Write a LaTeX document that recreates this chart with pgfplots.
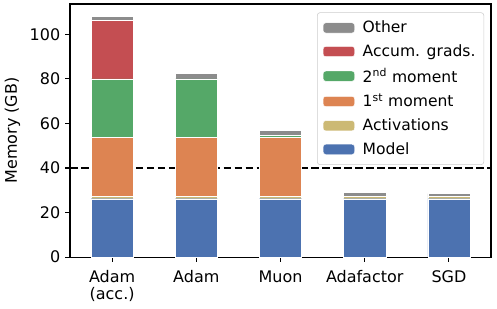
\documentclass[border=0pt]{standalone}
\usepackage{pgfplots}
\pgfplotsset{compat=1.18}
\usepackage{fontspec}
\setmainfont{DejaVu Sans}
\definecolor{cblue}{HTML}{4C72B0}
\definecolor{corange}{HTML}{DD8452}
\definecolor{cgreen}{HTML}{55A868}
\definecolor{cred}{HTML}{C44E52}
\definecolor{cgray}{HTML}{8C8C8C}
\definecolor{colive}{HTML}{CCB974}
\begin{document}
\begin{tikzpicture}
\begin{axis}[
  name=ax,
  scale only axis,
  width=303.1pt, height=182.2pt,
  ybar stacked,
  bar width=0.5,
  xmin=-0.5, xmax=4.5,
  ymin=0, ymax=113.6,
  xtick={0,1,2,3,4},
  xticklabels={{Adam\\(acc.)},Adam,Muon,Adafactor,SGD},
  xticklabel style={align=center, font=\fontsize{11.5pt}{12pt}\selectfont, yshift=-2.5pt},
  ytick={0,20,40,60,80,100},
  yticklabel style={font=\fontsize{11.5pt}{13pt}\selectfont},
  /pgf/number format/assume math mode=true,
  ylabel={Memory (GB)},
  ylabel style={font=\fontsize{11.5pt}{13pt}\selectfont},
  tick align=outside,
  tick pos=left,
  major tick length=3.5pt,
  every tick/.style={black, line width=0.8pt},
  axis line style={line width=0.8pt},
  reverse legend,
  legend cell align=left,
  legend style={at={(1,1)}, anchor=north east, xshift=-5pt, yshift=-6pt,
    draw=black!20, rounded corners=2pt, fill=white,
    font=\fontsize{11.2pt}{13pt}\selectfont, row sep=3pt, inner xsep=4pt, inner ysep=4pt,
    /tikz/every odd column/.append style={column sep=3.6pt}},
  legend image code/.code={\fill[#1] (0pt,-3.7pt) rectangle (22.8pt,3.7pt);},
  every axis plot/.append style={draw=white, line width=0.3pt},
]
\addplot[fill=cblue] coordinates {(0,26.2) (1,26.2) (2,26.2) (3,26.2) (4,26.2)};
\addlegendentry{Model}
\addplot[fill=colive] coordinates {(0,1.0) (1,1.0) (2,1.0) (3,1.0) (4,1.0)};
\addlegendentry{Activations}
\addplot[fill=corange] coordinates {(0,26.6) (1,26.6) (2,26.6) (3,0) (4,0)};
\addlegendentry{1\textsuperscript{st} moment}
\addplot[fill=cgreen] coordinates {(0,26.2) (1,26.2) (2,0.7) (3,0.1) (4,0)};
\addlegendentry{2\textsuperscript{nd} moment}
\addplot[fill=cred] coordinates {(0,26.3) (1,0) (2,0) (3,0) (4,0)};
\addlegendentry{Accum. grads.}
\addplot[fill=cgray] coordinates {(0,1.9) (1,2.4) (2,2.3) (3,1.8) (4,1.3)};
\addlegendentry{Other}
\draw[black, line width=1.5pt, dash pattern=on 5.5pt off 2.4pt] (axis cs:-0.5,40) -- (axis cs:4.5,40);
\end{axis}
\pgfresetboundingbox
\path ([xshift=-50.4pt, yshift=-36.7pt]ax.south west) rectangle ([xshift=4.3pt, yshift=2.9pt]ax.north east);
\end{tikzpicture}
\end{document}
